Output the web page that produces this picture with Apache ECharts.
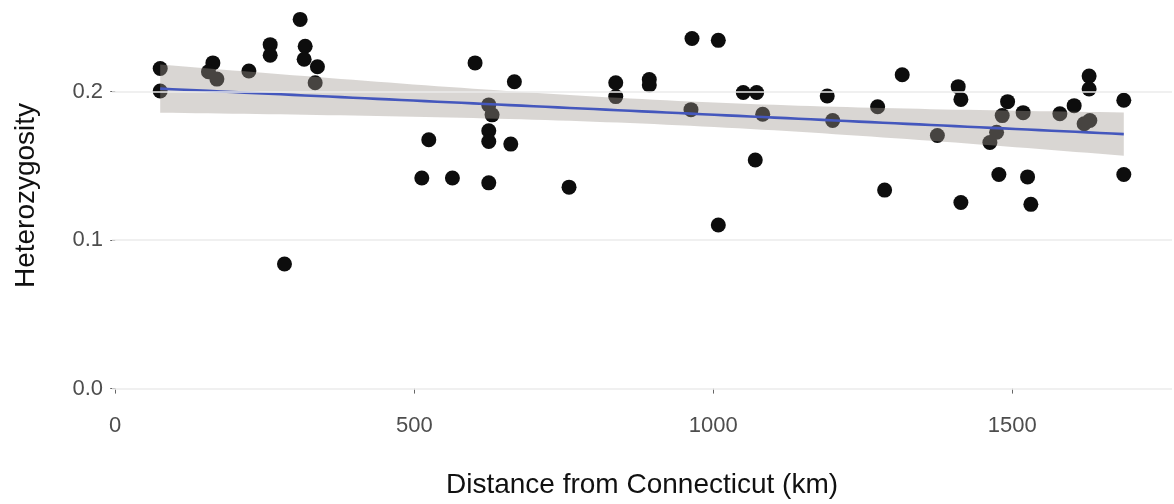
<!DOCTYPE html>
<html>
<head>
<meta charset="utf-8">
<title>Heterozygosity vs distance</title>
<script src="https://cdn.jsdelivr.net/npm/echarts@6/dist/echarts.min.js"></script>
<style>
  html, body { margin: 0; padding: 0; background: #ffffff; }
  #chart { width: 1174px; height: 504px; }
</style>
</head>
<body>
<div id="chart"></div>
<script>
// Sampling sites: distance from Connecticut (km) and observed heterozygosity
const distanceKm = [
  75.2, 75.2, 163.3, 155.9, 170.0, 223.5, 259.1, 259.1, 309.2, 317.6,
  315.9, 338.1, 334.3, 283.0, 601.7, 667.4, 524.3, 512.6, 563.8, 624.6,
  624.6, 624.6, 624.6, 630.1, 661.4, 758.8, 836.9, 836.9, 893.0, 893.0,
  964.4, 962.7, 1008.4, 1050.1, 1072.5, 1082.6, 1070.2, 1008.4, 1190.5, 1199.6,
  1315.9, 1274.8, 1286.5, 1374.7, 1409.5, 1414.0, 1492.1, 1483.1, 1518.1, 1473.7,
  1462.5, 1477.5, 1525.5, 1414.0, 1531.0, 1579.5, 1603.4, 1628.4, 1628.4, 1620.1,
  1629.6, 1686.4, 1686.4
];
const heterozygosity = [
  0.2156, 0.2005, 0.2194, 0.2134, 0.2085, 0.2139, 0.2317, 0.2246, 0.2487, 0.2306,
  0.2219, 0.2168, 0.2060, 0.0839, 0.2194, 0.2067, 0.1676, 0.1419, 0.1419, 0.1386,
  0.1737, 0.1665, 0.1911, 0.1844, 0.1647, 0.1357, 0.2060, 0.1967, 0.2082, 0.2045,
  0.2358, 0.1879, 0.2346, 0.1995, 0.1995, 0.1848, 0.1540, 0.1102, 0.1971, 0.1806,
  0.2114, 0.1899, 0.1337, 0.1705, 0.2034, 0.1948, 0.1933, 0.1839, 0.1859, 0.1727,
  0.1658, 0.1442, 0.1426, 0.1254, 0.1241, 0.1851, 0.1906, 0.2105, 0.2018, 0.1784,
  0.1806, 0.1942, 0.1442
];
const xTicks = [0, 500, 1000, 1500];
const yTicks = [0, 0.1, 0.2];

// Ordinary least-squares line with a 95% confidence band for the mean
function linearFit(xs, ys, steps) {
  const n = xs.length;
  const mx = xs.reduce((a, b) => a + b, 0) / n;
  const my = ys.reduce((a, b) => a + b, 0) / n;
  let sxx = 0, sxy = 0;
  for (let i = 0; i < n; i++) {
    sxx += (xs[i] - mx) * (xs[i] - mx);
    sxy += (xs[i] - mx) * (ys[i] - my);
  }
  const slope = sxy / sxx;
  const intercept = my - slope * mx;
  let sse = 0;
  for (let i = 0; i < n; i++) {
    const r = ys[i] - (intercept + slope * xs[i]);
    sse += r * r;
  }
  const s = Math.sqrt(sse / (n - 2));
  const tCrit = 2.0; // t(0.975, df = 61)
  const lo = Math.min(...xs), hi = Math.max(...xs);
  const line = [], upper = [], lower = [];
  for (let k = 0; k <= steps; k++) {
    const x = lo + (hi - lo) * k / steps;
    const yhat = intercept + slope * x;
    const se = s * Math.sqrt(1 / n + (x - mx) * (x - mx) / sxx);
    line.push([x, yhat]);
    upper.push([x, yhat + tCrit * se]);
    lower.push([x, yhat - tCrit * se]);
  }
  return { line, upper, lower };
}

const fit = linearFit(distanceKm, heterozygosity, 80);
const points = distanceKm.map((d, i) => [d, heterozygosity[i]]);

const FONT = '"Liberation Sans", Arial, Helvetica, sans-serif';
const chart = echarts.init(document.getElementById('chart'), null, { renderer: 'canvas' });

chart.setOption({
  animation: false,
  backgroundColor: '#ffffff',
  grid: { left: 112, right: 2, top: 1, bottom: 96.5, containLabel: false },
  xAxis: {
    type: 'value',
    min: -5.4,
    max: 1767,
    axisLine: { show: false },
    splitLine: { show: false },
    axisTick: {
      show: true, customValues: xTicks, length: 5, inside: false,
      lineStyle: { color: '#666666', width: 1 }
    },
    axisLabel: {
      customValues: xTicks, color: '#4d4d4d', fontSize: 22, fontFamily: FONT, margin: 8,
      formatter: v => String(v)
    },
    name: 'Distance from Connecticut (km)',
    nameLocation: 'middle',
    nameGap: 64,
    nameTextStyle: { fontSize: 28, color: '#111111', fontFamily: FONT }
  },
  yAxis: {
    type: 'value',
    min: -0.0124,
    max: 0.2611,
    axisLine: { show: false },
    splitLine: { show: false },
    axisTick: {
      show: true, customValues: yTicks, length: 5, inside: false,
      lineStyle: { color: '#666666', width: 1 }
    },
    axisLabel: {
      customValues: yTicks, color: '#4d4d4d', fontSize: 22, fontFamily: FONT, margin: 9,
      formatter: v => v.toFixed(1)
    },
    name: 'Heterozygosity',
    nameLocation: 'middle',
    nameGap: 72,
    nameRotate: 90,
    nameTextStyle: { fontSize: 28, color: '#111111', fontFamily: FONT, padding: [0, 0, 0, 17] }
  },
  series: [
    {
      // horizontal reference lines at the major y breaks
      type: 'line',
      data: [],
      z: 0,
      silent: true,
      markLine: {
        silent: true,
        symbol: ['none', 'none'],
        label: { show: false },
        lineStyle: { color: '#ebebeb', width: 1.5, type: 'solid' },
        data: yTicks.map(v => ({ yAxis: v }))
      }
    },
    {
      type: 'scatter',
      data: points,
      symbol: 'circle',
      symbolSize: 15,
      itemStyle: { color: '#0d0d0d', opacity: 1 },
      z: 2,
      silent: true
    },
    {
      // confidence ribbon, laid over the points
      type: 'custom',
      coordinateSystem: 'cartesian2d',
      data: [fit.line[0]],
      z: 3,
      silent: true,
      renderItem: (params, api) => {
        const poly = fit.upper.map(p => api.coord(p))
          .concat(fit.lower.slice().reverse().map(p => api.coord(p)));
        return {
          type: 'polygon',
          shape: { points: poly },
          style: { fill: 'rgba(160, 152, 144, 0.4)' }
        };
      }
    },
    {
      type: 'line',
      data: fit.line,
      showSymbol: false,
      symbol: 'none',
      lineStyle: { color: '#4457bd', width: 2.6 },
      z: 4,
      silent: true
    }
  ]
});
</script>
</body>
</html>
